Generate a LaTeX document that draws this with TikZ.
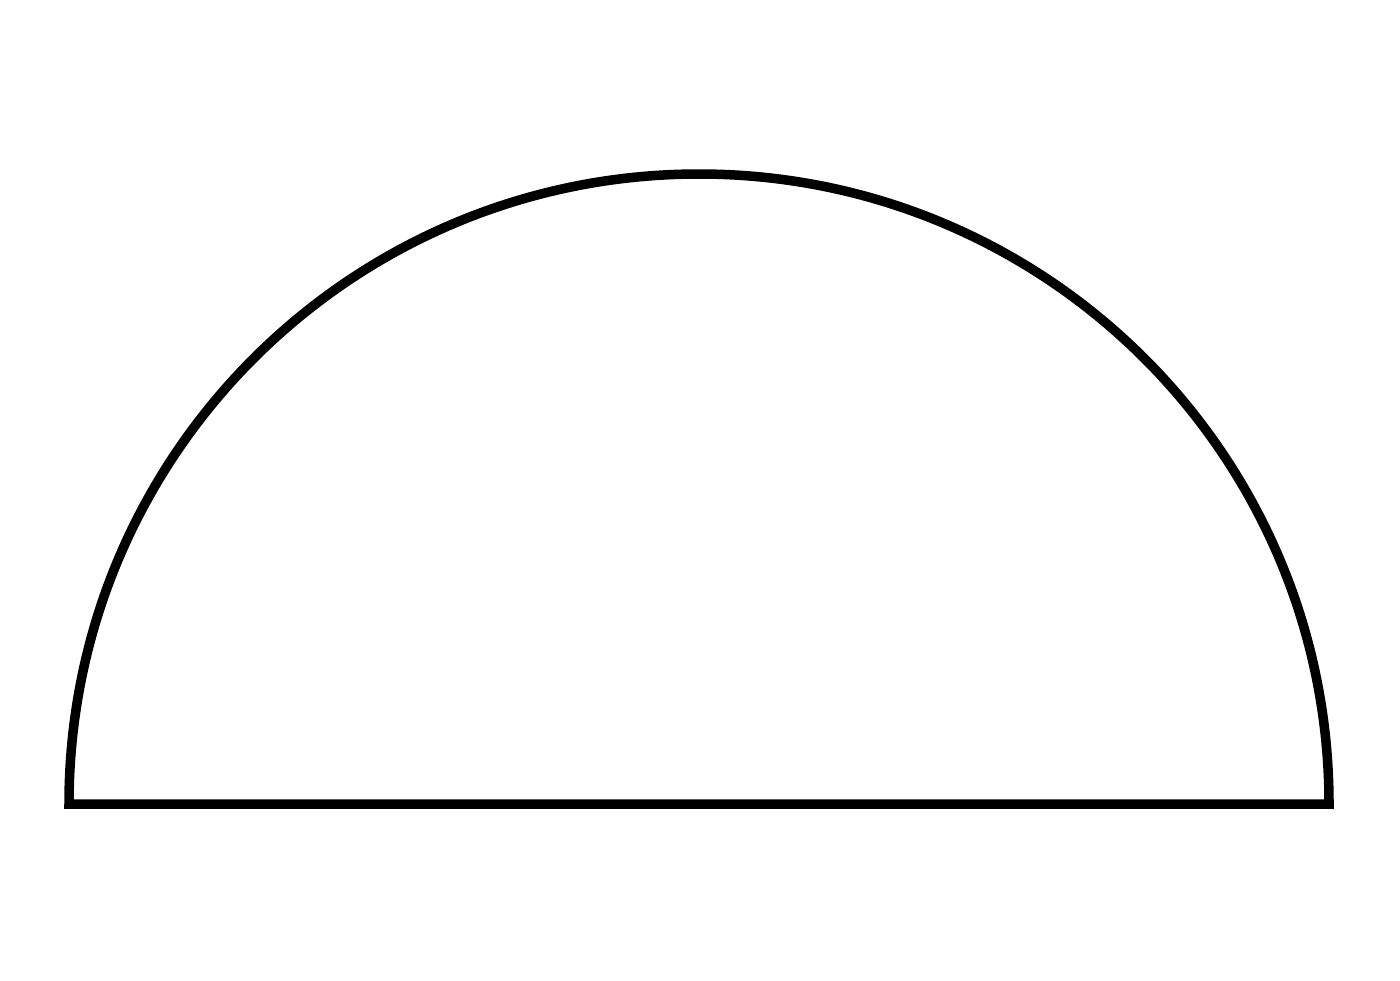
\documentclass[tikz,border=0pt]{standalone}
\usepackage{tikz}
\usetikzlibrary{positioning,calc}

\begin{document}
\begin{tikzpicture}[
    outline/.style={draw=black, line width=0.095cm, line join=miter}
]
    % Canvas
    \useasboundingbox (0, 0) rectangle (14, 9.8);

    % Half disc
    \coordinate (centre) at (6.99, 1.76);
    \draw[outline] ($(centre)+(-6.3, 0)$) arc[start angle=180, end angle=0, radius=6.3] -- cycle;
\end{tikzpicture}
\end{document}
